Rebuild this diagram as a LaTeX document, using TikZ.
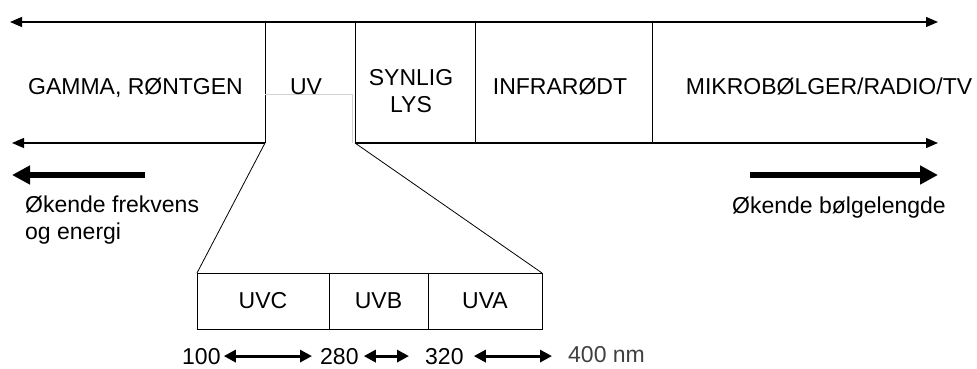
\documentclass[tikz,border=0pt]{standalone}
\usepackage{fontspec}
\setmainfont{Liberation Sans}
\usetikzlibrary{arrows.meta,positioning}

\begin{document}
\begin{tikzpicture}[x=1pt,y=-1pt,font=\fontsize{23}{27}\selectfont,
  lbl/.style={inner sep=0pt},
  axisline/.style={line width=1.3pt},
  axistip/.style={-{Triangle[length=12pt,width=10pt]}},
  divider/.style={line width=1pt},
  bigarrow/.style={line width=6pt,-{Triangle[length=18pt,width=18pt]}},
  numarrow/.style={line width=3pt,{Triangle[length=12pt,width=12pt]}-{Triangle[length=12pt,width=12pt]}},
  uvbox/.style={draw,line width=1pt,outer sep=0pt,inner sep=0pt,minimum height=56pt}]
  \useasboundingbox (0,0) rectangle (977,369);

  % band edges
  \coordinate (tl) at (10,22);
  \coordinate (tr) at (938,22);
  \coordinate (bl) at (12,143);
  \coordinate (br) at (938,143);
  \coordinate (uvtl) at (265,22);
  \coordinate (uvbl) at (265,143);
  \coordinate (uvtr) at (355,22);
  \coordinate (uvbr) at (355,143);
  \coordinate (irt) at (475,22);
  \coordinate (irb) at (475,143);
  \coordinate (mwt) at (652,22);
  \coordinate (mwb) at (652,143);
  \coordinate (uvin) at (265,94.5);
  \coordinate (uvcorner) at (352,94.5);
  \coordinate (uvfoot) at (352,143);

  \draw[axisline,{Triangle[length=12pt,width=10pt]}-{Triangle[length=12pt,width=10pt]}] (tl) -- (tr);
  \draw[axisline,axistip] (uvbl) -- (bl);
  \draw[axisline,axistip] (uvbr) -- (br);
  \draw[divider] (uvtl) -- (uvbl);
  \draw[divider] (uvtr) -- (uvbr);
  \draw[divider] (irt) -- (irb);
  \draw[divider] (mwt) -- (mwb);
  \draw[gray!35,line width=0.8pt] (uvin) -- (uvcorner) -- (uvfoot);

  % band labels
  \node[lbl,anchor=base] (gamma) at (135.5,94) {GAMMA, RØNTGEN};
  \node[lbl,anchor=base] (uv) at (306,94) {UV};
  \node[lbl,align=center] (vis) at (411,91) {SYNLIG\\LYS};
  \node[lbl,anchor=base] (ir) at (560,94) {INFRARØDT};
  \node[lbl,anchor=base] (radio) at (829,94) {MIKROBØLGER/RADIO/TV};

  % direction arrows
  \coordinate (fqtail) at (145,175);
  \coordinate (fqtip) at (12,175);
  \coordinate (wltail) at (750,175);
  \coordinate (wltip) at (938,175);
  \draw[bigarrow] (fqtail) -- (fqtip);
  \draw[bigarrow] (wltail) -- (wltip);
  \node[lbl,align=left,anchor=north west] (freq) at (25,196) {Økende frekvens\\og energi};
  \node[lbl,anchor=base west] (wave) at (732,213) {Økende bølgelengde};

  % UV subdivision
  \node[uvbox,minimum width=132pt] (uvc) at (263,301) {UVC};
  \node[uvbox,minimum width=99pt,right=0pt of uvc] (uvb) {UVB};
  \node[uvbox,minimum width=114pt,right=0pt of uvb] (uva) {UVA};
  \draw[line width=0.8pt] (uvbl) -- (uvc.north west);
  \draw[line width=0.8pt] (uvbr) -- (uva.north east);

  % wavelengths
  \node[lbl,anchor=base west] (n100) at (182,364) {100};
  \node[lbl,anchor=base west] (n280) at (320,364) {280};
  \node[lbl,anchor=base west] (n320) at (425,364) {320};
  \node[lbl,anchor=base west,black!75] (n400) at (568,362) {400 nm};
  \draw[numarrow] ([xshift=3pt]n100.east) -- ([xshift=-8pt]n280.west);
  \draw[numarrow] ([xshift=5pt]n280.east) -- ([xshift=-16pt]n320.west);
  \draw[numarrow] ([xshift=10pt]n320.east) -- ([xshift=-16pt,yshift=-2pt]n400.west);
\end{tikzpicture}
\end{document}
